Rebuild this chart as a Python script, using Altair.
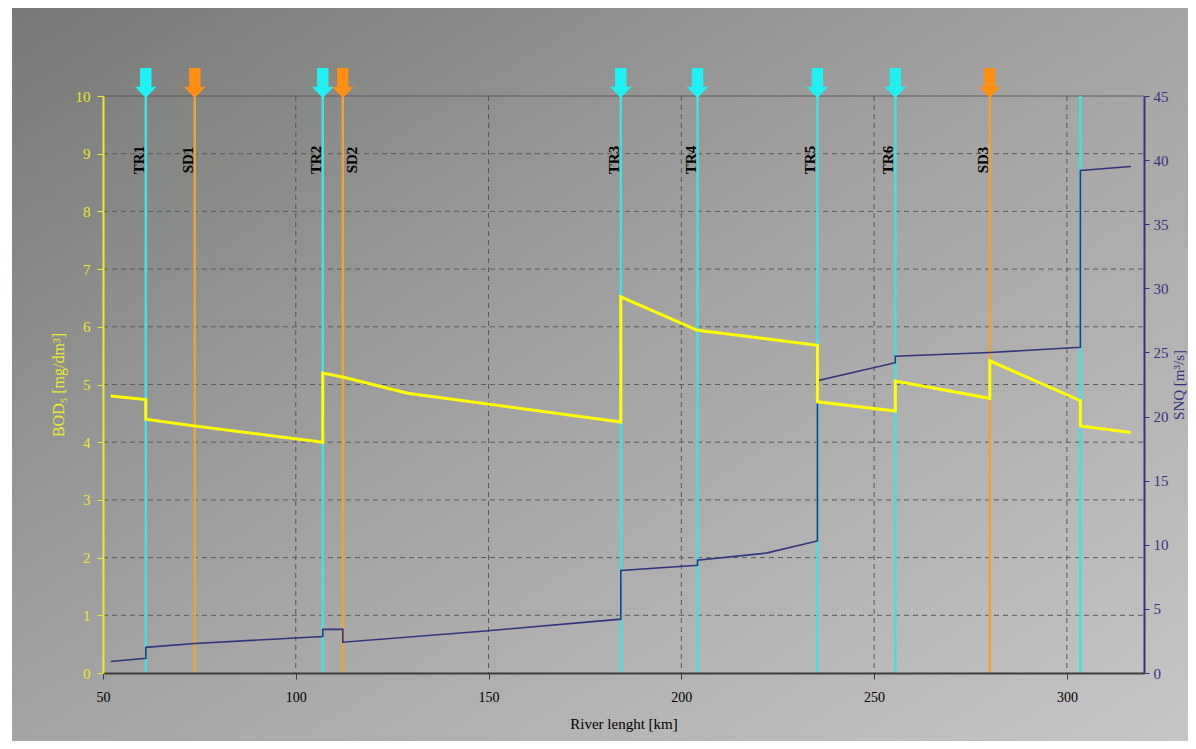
import altair as alt
import pandas as pd

# ---------------- data ----------------
bod_km = [52.0, 61.1, 61.1, 73.8, 107.0, 107.0, 112.2, 129.0, 184.3, 184.3,
          204.2, 235.3, 235.3, 255.5, 255.5, 280.0, 280.0, 303.5, 303.5, 316.6]
bod_val = [4.80, 4.74, 4.40, 4.28, 4.00, 5.20, 5.13, 4.85, 4.35, 6.52,
           5.94, 5.68, 4.70, 4.54, 5.06, 4.76, 5.41, 4.72, 4.28, 4.17]

snq_km = [52.0, 61.1, 61.1, 73.8, 107.0, 107.0, 112.2, 112.2, 150.0, 184.3, 184.3,
          204.2, 204.2, 222.0, 235.3, 235.3, 255.5, 255.5, 280.0, 303.5, 303.5, 316.6]
snq_val = [0.9, 1.15, 2.0, 2.3, 2.85, 3.4, 3.4, 2.4, 3.3, 4.2, 8.0,
           8.4, 8.8, 9.35, 10.3, 22.8, 24.2, 24.7, 25.0, 25.4, 39.2, 39.5]

marker_names = ["TR1", "SD1", "TR2", "SD2", "TR3", "TR4", "TR5", "TR6", "SD3", ""]
marker_km = [61.1, 73.8, 107.0, 112.2, 184.3, 204.2, 235.3, 255.5, 280.0, 303.5]
marker_kind = ["TR", "SD", "TR", "SD", "TR", "TR", "TR", "TR", "SD", "TR"]
right_side_labels = ["SD2"]

x_ticks = [50, 100, 150, 200, 250, 300]
x_grid = [100, 150, 200, 250, 300]
bod_ticks = [0, 1, 2, 3, 4, 5, 6, 7, 8, 9, 10]
bod_grid = [1, 2, 3, 4, 5, 6, 7, 8, 9]
snq_ticks = [0, 5, 10, 15, 20, 25, 30, 35, 40, 45]

# ---------------- layout ----------------
W, H = 1041, 577
PL, PT, PR, PB = 95, 88, 44, 68
FONT = "Liberation Serif"
YEL = "#e9e92a"
NAVY = "#34347e"

bod_df = pd.DataFrame({"km": bod_km, "bod": bod_val, "i": list(range(len(bod_km)))})
snq_df = pd.DataFrame({"km": snq_km, "snq": snq_val, "i": list(range(len(snq_km)))})
mk_df = pd.DataFrame({"name": marker_names, "km": marker_km, "kind": marker_kind})
mk_lab = mk_df[mk_df["name"] != ""]
mk_left = mk_lab[~mk_lab["name"].isin(right_side_labels)]
mk_right = mk_lab[mk_lab["name"].isin(right_side_labels)]
xg_df = pd.DataFrame({"v": x_grid})
yg_df = pd.DataFrame({"v": bod_grid})

xscale = alt.Scale(domain=[50, 320], nice=False, zero=False)
xaxis = alt.Axis(values=x_ticks, title="River lenght [km]", grid=False, zindex=1,
                 labelFont=FONT, labelFontSize=14, labelColor="black",
                 titleFont=FONT, titleFontSize=15, titleFontWeight="normal",
                 titleColor="black", domainColor="#3c3c3c", domainWidth=2,
                 tickColor="#3c3c3c", tickSize=6, labelPadding=11, titlePadding=12,
                 labelFlush=False)

grad = alt.LinearGradient(
    gradient="linear",
    stops=[alt.GradientStop(color="#767976", offset=0),
           alt.GradientStop(color="#a4a4a4", offset=0.5),
           alt.GradientStop(color="#c6c6c6", offset=1)],
    x1=0, y1=0, x2=1, y2=1)

bg = alt.Chart(pd.DataFrame({"a": [0]})).mark_rect(fill=grad, strokeWidth=0).encode(
    x=alt.value(-(PL - 4)), x2=alt.value(W + PR),
    y=alt.value(-PT), y2=alt.value(H + PB))

grid_v = alt.Chart(xg_df).mark_rule(color="#585858", strokeWidth=1, strokeDash=[5, 4]).encode(
    x=alt.X("v:Q", scale=xscale, axis=xaxis),
    y=alt.value(0), y2=alt.value(H))

grid_h = alt.Chart(yg_df).mark_rule(color="#5c5c5c", strokeWidth=1, strokeDash=[5, 4]).encode(
    y=alt.Y("v:Q", scale=alt.Scale(domain=[0, 10], nice=False), axis=None),
    x=alt.value(0), x2=alt.value(W))

frame = alt.Chart(pd.DataFrame({"a": [0]})).mark_rule(color="#5a5a5a", strokeWidth=1).encode(
    x=alt.value(0), x2=alt.value(W), y=alt.value(0))

rules = alt.Chart(mk_df).mark_rule(strokeWidth=2.5).encode(
    x=alt.X("km:Q", scale=xscale, axis=xaxis),
    y=alt.value(0), y2=alt.value(H),
    color=alt.Color("kind:N", scale=alt.Scale(domain=["TR", "SD"], range=["#3fe2e0", "#eca238"]),
                    legend=None))

ARROW = "M-0.38,-1L0.38,-1L0.38,0.25L0.72,0.25L0,1L-0.72,0.25L-0.38,0.25Z"
arrows = alt.Chart(mk_lab).mark_point(shape=ARROW, size=900, filled=True, opacity=1,
                                      strokeWidth=0).encode(
    x=alt.X("km:Q", scale=xscale, axis=xaxis),
    y=alt.value(-13),
    fill=alt.Fill("kind:N", scale=alt.Scale(domain=["TR", "SD"], range=["#20f0f4", "#ff8e12"]),
                  legend=None))

text_style = dict(angle=270, font=FONT, fontSize=15, fontWeight="bold",
                  color="black", align="center")
labels_l = alt.Chart(mk_left).mark_text(baseline="alphabetic", dy=-2, **text_style).encode(
    x=alt.X("km:Q", scale=xscale, axis=xaxis),
    y=alt.value(64),
    text="name:N")
labels_r = alt.Chart(mk_right).mark_text(baseline="top", dy=2, **text_style).encode(
    x=alt.X("km:Q", scale=xscale, axis=xaxis),
    y=alt.value(64),
    text="name:N")

snq = alt.Chart(snq_df).mark_line(color=NAVY, strokeWidth=1.6).encode(
    x=alt.X("km:Q", scale=xscale, axis=xaxis),
    y=alt.Y("snq:Q", scale=alt.Scale(domain=[0, 45], nice=False),
            axis=alt.Axis(orient="right", values=snq_ticks, title="SNQ [m³/s]", grid=False,
                          zindex=1, labelFont=FONT, labelFontSize=15, labelColor=NAVY,
                          titleFont=FONT, titleFontSize=15, titleFontWeight="normal",
                          titleColor=NAVY, titleAngle=270, titlePadding=18,
                          domainColor=NAVY, domainWidth=2, tickColor=NAVY, tickSize=5,
                          labelPadding=4)),
    order="i:Q")

bod = alt.Chart(bod_df).mark_line(color="#ffff00", strokeWidth=3).encode(
    x=alt.X("km:Q", scale=xscale, axis=xaxis),
    y=alt.Y("bod:Q", scale=alt.Scale(domain=[0, 10], nice=False),
            axis=alt.Axis(orient="left", values=bod_ticks, title="BOD₅ [mg/dm³]", grid=False,
                          zindex=1, labelFont=FONT, labelFontSize=15, labelColor=YEL,
                          titleFont=FONT, titleFontSize=16, titleFontWeight="normal",
                          titleColor=YEL, titlePadding=9,
                          domainColor=YEL, domainWidth=2, tickColor=YEL, tickSize=6,
                          labelPadding=7)),
    order="i:Q")

chart = alt.layer(bg, grid_v, grid_h, frame, rules, arrows, labels_l, labels_r, snq, bod
).resolve_scale(
    y="independent"
).properties(
    width=W, height=H,
    padding={"left": PL, "top": PT, "right": PR, "bottom": PB},
    autosize=alt.AutoSizeParams(type="none"),
    background="white",
).configure_view(stroke=None)

chart.save("out.html", embed_options={"renderer": "svg", "actions": False})
